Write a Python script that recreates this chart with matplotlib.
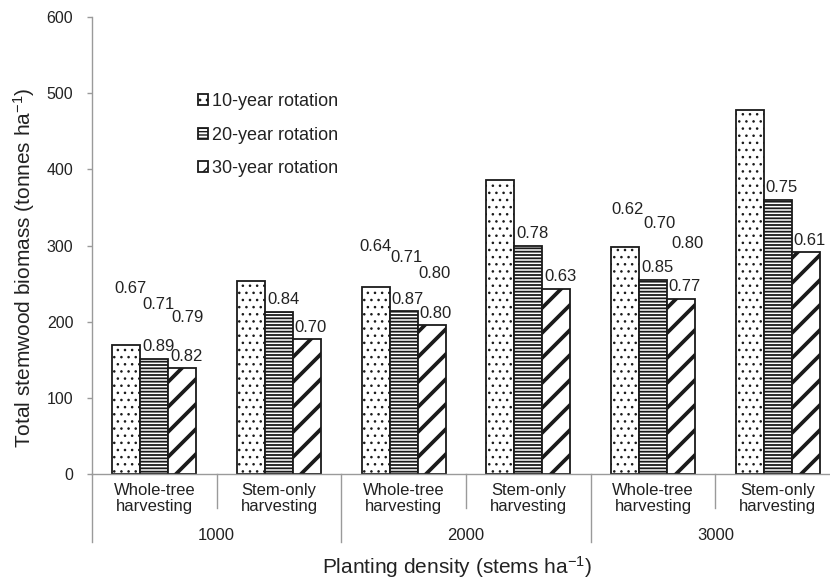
import matplotlib
matplotlib.use("Agg")
import matplotlib.pyplot as plt
import numpy as np
from matplotlib.backend_bases import GraphicsContextBase

plt.rcParams["font.family"] = ["Liberation Sans", "DejaVu Sans"]
plt.rcParams["mathtext.fontset"] = "custom"
plt.rcParams["mathtext.rm"] = "Liberation Sans"
plt.rcParams["mathtext.it"] = "Liberation Sans:italic"
plt.rcParams["mathtext.default"] = "regular"

# finer pattern density for the dotted and diagonal fills
# (even line counts keep the diagonal pattern seamless between tiles)
_base_hatch_path = GraphicsContextBase.get_hatch_path
_hatch_density = {"..": 7, "/": 8}


def _hatch_path(self, density=6.0):
    return _base_hatch_path(self, _hatch_density.get(self.get_hatch(), density))


GraphicsContextBase.get_hatch_path = _hatch_path

# ---- data -------------------------------------------------------------
harvest_labels = ["Whole-tree\nharvesting", "Stem-only\nharvesting"] * 3
densities = ["1000", "2000", "3000"]
series_names = ["10-year rotation", "20-year rotation", "30-year rotation"]

rot10 = [170, 253, 245, 386, 298, 478]
rot20 = [151, 213, 214, 300, 255, 360]
rot30 = [139, 177, 195, 243, 230, 291]

# ratio of each rotation to the 10-year rotation (shown on 20/30-year bars)
ratio_to_10yr_20 = ["0.89", "0.84", "0.87", "0.78", "0.85", "0.75"]
ratio_to_10yr_30 = ["0.82", "0.70", "0.80", "0.63", "0.77", "0.61"]

# whole-tree / stem-only ratios (shown above whole-tree groups)
wt_so_10 = ["0.67", "0.64", "0.62"]
wt_so_20 = ["0.71", "0.71", "0.70"]
wt_so_30 = ["0.79", "0.80", "0.80"]

# ---- figure -----------------------------------------------------------
W, H = 830, 584
PX = 0.72  # points per pixel at 100 dpi
fig = plt.figure(figsize=(W / 100, H / 100), dpi=100)
ax_left, ax_right, ax_top, ax_bot = 92, 840, 17, 474
ax = fig.add_axes([ax_left / W, 1 - ax_bot / H,
                   (ax_right - ax_left) / W, (ax_bot - ax_top) / H])

n = len(rot10)
x = np.arange(n)
bw = 0.2245
hatches = ["..", "-----", "/"]
hatch_lws = [0.8, 1.3, 2.7]
all_series = [rot10, rot20, rot30]
edge = "#1a1a1a"
text_col = "#222222"

bar_groups = []
for k, (vals, hatch, hlw) in enumerate(zip(all_series, hatches, hatch_lws)):
    with plt.rc_context({"hatch.linewidth": hlw, "hatch.color": edge}):
        bars = ax.bar(x + (k - 1) * bw, vals, width=bw, facecolor="white",
                      edgecolor=edge, linewidth=1.3, hatch=hatch,
                      label=series_names[k], zorder=2)
        for b in bars:
            if hasattr(b, "set_hatch_linewidth"):
                b.set_hatch_linewidth(hlw)
    bar_groups.append(bars)

ax.set_xlim(-0.5, n - 0.5)
ax.set_ylim(0, 600)
ax.set_yticks(np.arange(0, 601, 100))
ax.set_xticks([])
for s in ["top", "right"]:
    ax.spines[s].set_visible(False)
axis_grey = "#9a9a9a"
for s in ["left", "bottom"]:
    ax.spines[s].set_color(axis_grey)
    ax.spines[s].set_linewidth(1.0)
ax.tick_params(axis="y", length=3.5, width=1.0, color=axis_grey,
               labelsize=11.5, labelcolor=text_col, pad=10)

label_kw = dict(fontsize=12, color=text_col, ha="center", va="center",
                textcoords="offset points", annotation_clip=False)

# value labels on the 20- and 30-year bars
for bars, texts in [(bar_groups[1], ratio_to_10yr_20),
                    (bar_groups[2], ratio_to_10yr_30)]:
    for b, t in zip(bars, texts):
        ax.annotate(t, (b.get_x() + b.get_width() / 2, b.get_height()),
                    xytext=(4 * PX, 12 * PX), **label_kw)

# whole-tree vs stem-only ratios above the whole-tree groups
float_dx = [[4, 0, 2.5], [4, 3, 7], [5, 3, 7]]
float_dy = [[56, 41, 38], [54, 54, 56], [51, 52, 55]]
for k, texts in enumerate([wt_so_10, wt_so_20, wt_so_30]):
    for j, t in enumerate(texts):
        b = bar_groups[k][2 * j]
        ax.annotate(t, (b.get_x() + b.get_width() / 2, b.get_height()),
                    xytext=(float_dx[k][j] * PX, float_dy[k][j] * PX),
                    **label_kw)

# two-level category axis
ax_h = ax_bot - ax_top
trans = ax.get_xaxis_transform()
minor_drop = -(508 - ax_bot) / ax_h
major_drop = -(542 - ax_bot) / ax_h
for i in range(n + 1):
    xb = i - 0.5
    drop = major_drop if i % 2 == 0 else minor_drop
    ax.plot([xb, xb], [0, drop], color=axis_grey, lw=1.0,
            transform=trans, clip_on=False, zorder=1)

for i, lab in enumerate(harvest_labels):
    ax.text(i, -(483 - ax_bot) / ax_h, lab, transform=trans, ha="center",
            va="top", fontsize=12, color=text_col, linespacing=1.1)
for j, d in enumerate(densities):
    ax.text(2 * j + 0.5, -(536 - ax_bot) / ax_h, d, transform=trans,
            ha="center", va="center", fontsize=12, color=text_col)

# axis titles
fig.text(457 / W, 1 - 567 / H, "Planting density (stems ha$^{-1}$)",
         ha="center", va="center", fontsize=15, color=text_col)
fig.text(24 / W, 1 - 268 / H, "Total stemwood biomass (tonnes ha$^{-1}$)",
         ha="center", va="center", rotation=90, fontsize=15, color=text_col)

# legend
leg = fig.legend(handles=bar_groups, labels=series_names, loc="upper left",
                 bbox_to_anchor=(198 / W, 1 - 93 / H), frameon=False,
                 fontsize=13, handlelength=0.55, handleheight=0.55,
                 handletextpad=0.25, labelspacing=0.92, borderpad=0,
                 borderaxespad=0)
for t in leg.get_texts():
    t.set_color(text_col)

fig.savefig("out.png", dpi=100, facecolor="white")
